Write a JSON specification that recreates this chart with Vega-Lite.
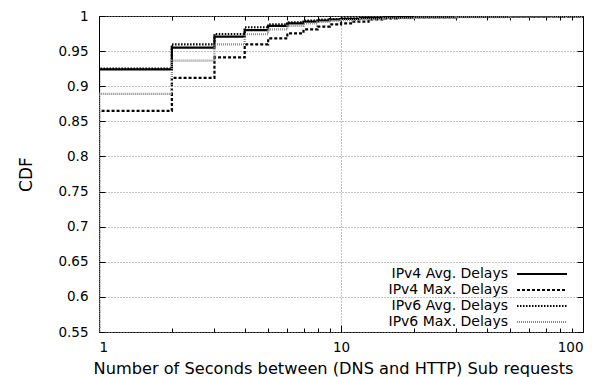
{
  "$schema": "https://vega.github.io/schema/vega-lite/v6.json",
  "width": 484,
  "height": 316,
  "autosize": {"type": "none"},
  "padding": {"left": 99, "top": 16, "right": 20, "bottom": 45},
  "background": "white",
  "config": {
    "view": {"stroke": "#000", "strokeWidth": 1},
    "font": "DejaVu Sans",
    "axis": {
      "labelFont": "DejaVu Sans",
      "titleFont": "DejaVu Sans",
      "labelColor": "#000",
      "titleColor": "#000",
      "tickColor": "#000",
      "labelFontSize": 13.5,
      "titleFontSize": 16.2,
      "titleFontWeight": "normal",
      "domain": false,
      "gridColor": "#888",
      "gridDash": [1, 2],
      "gridWidth": 1
    },
    "legend": {"labelFont": "DejaVu Sans", "labelFontSize": 14, "labelColor": "#000"}
  },
  "data": {
    "values": [
      {"series": "IPv4 Avg. Delays", "x": 1, "y": 0},
      {"series": "IPv4 Avg. Delays", "x": 1, "y": 0.924},
      {"series": "IPv4 Avg. Delays", "x": 2, "y": 0.955},
      {"series": "IPv4 Avg. Delays", "x": 3, "y": 0.9705},
      {"series": "IPv4 Avg. Delays", "x": 4, "y": 0.98},
      {"series": "IPv4 Avg. Delays", "x": 5, "y": 0.986},
      {"series": "IPv4 Avg. Delays", "x": 6, "y": 0.9896},
      {"series": "IPv4 Avg. Delays", "x": 7, "y": 0.992},
      {"series": "IPv4 Avg. Delays", "x": 8, "y": 0.9936},
      {"series": "IPv4 Avg. Delays", "x": 9, "y": 0.995},
      {"series": "IPv4 Avg. Delays", "x": 10, "y": 0.996},
      {"series": "IPv4 Avg. Delays", "x": 12, "y": 0.997},
      {"series": "IPv4 Avg. Delays", "x": 15, "y": 0.998},
      {"series": "IPv4 Avg. Delays", "x": 20, "y": 0.9985},
      {"series": "IPv4 Avg. Delays", "x": 30, "y": 0.999},
      {"series": "IPv4 Avg. Delays", "x": 50, "y": 0.9995},
      {"series": "IPv4 Avg. Delays", "x": 70, "y": 0.9998},
      {"series": "IPv4 Avg. Delays", "x": 100, "y": 1},
      {"series": "IPv4 Max. Delays", "x": 1, "y": 0},
      {"series": "IPv4 Max. Delays", "x": 1, "y": 0.865},
      {"series": "IPv4 Max. Delays", "x": 2, "y": 0.912},
      {"series": "IPv4 Max. Delays", "x": 3, "y": 0.9412},
      {"series": "IPv4 Max. Delays", "x": 4, "y": 0.9595},
      {"series": "IPv4 Max. Delays", "x": 5, "y": 0.968},
      {"series": "IPv4 Max. Delays", "x": 6, "y": 0.9754},
      {"series": "IPv4 Max. Delays", "x": 7, "y": 0.981},
      {"series": "IPv4 Max. Delays", "x": 8, "y": 0.985},
      {"series": "IPv4 Max. Delays", "x": 9, "y": 0.988},
      {"series": "IPv4 Max. Delays", "x": 10, "y": 0.9895},
      {"series": "IPv4 Max. Delays", "x": 11, "y": 0.992},
      {"series": "IPv4 Max. Delays", "x": 13, "y": 0.995},
      {"series": "IPv4 Max. Delays", "x": 15, "y": 0.9965},
      {"series": "IPv4 Max. Delays", "x": 17, "y": 0.998},
      {"series": "IPv4 Max. Delays", "x": 20, "y": 0.9985},
      {"series": "IPv4 Max. Delays", "x": 30, "y": 0.999},
      {"series": "IPv4 Max. Delays", "x": 50, "y": 0.9995},
      {"series": "IPv4 Max. Delays", "x": 100, "y": 1},
      {"series": "IPv6 Avg. Delays", "x": 1, "y": 0},
      {"series": "IPv6 Avg. Delays", "x": 1, "y": 0.925},
      {"series": "IPv6 Avg. Delays", "x": 2, "y": 0.9597},
      {"series": "IPv6 Avg. Delays", "x": 3, "y": 0.9744},
      {"series": "IPv6 Avg. Delays", "x": 4, "y": 0.984},
      {"series": "IPv6 Avg. Delays", "x": 5, "y": 0.988},
      {"series": "IPv6 Avg. Delays", "x": 6, "y": 0.991},
      {"series": "IPv6 Avg. Delays", "x": 7, "y": 0.9933},
      {"series": "IPv6 Avg. Delays", "x": 8, "y": 0.995},
      {"series": "IPv6 Avg. Delays", "x": 9, "y": 0.9957},
      {"series": "IPv6 Avg. Delays", "x": 10, "y": 0.9965},
      {"series": "IPv6 Avg. Delays", "x": 12, "y": 0.9975},
      {"series": "IPv6 Avg. Delays", "x": 15, "y": 0.9985},
      {"series": "IPv6 Avg. Delays", "x": 20, "y": 0.999},
      {"series": "IPv6 Avg. Delays", "x": 30, "y": 0.9993},
      {"series": "IPv6 Avg. Delays", "x": 50, "y": 0.9996},
      {"series": "IPv6 Avg. Delays", "x": 100, "y": 1},
      {"series": "IPv6 Max. Delays", "x": 1, "y": 0},
      {"series": "IPv6 Max. Delays", "x": 1, "y": 0.889},
      {"series": "IPv6 Max. Delays", "x": 2, "y": 0.9364},
      {"series": "IPv6 Max. Delays", "x": 3, "y": 0.9597},
      {"series": "IPv6 Max. Delays", "x": 4, "y": 0.974},
      {"series": "IPv6 Max. Delays", "x": 5, "y": 0.981},
      {"series": "IPv6 Max. Delays", "x": 6, "y": 0.9858},
      {"series": "IPv6 Max. Delays", "x": 7, "y": 0.9896},
      {"series": "IPv6 Max. Delays", "x": 8, "y": 0.9915},
      {"series": "IPv6 Max. Delays", "x": 9, "y": 0.993},
      {"series": "IPv6 Max. Delays", "x": 10, "y": 0.994},
      {"series": "IPv6 Max. Delays", "x": 12, "y": 0.9955},
      {"series": "IPv6 Max. Delays", "x": 15, "y": 0.997},
      {"series": "IPv6 Max. Delays", "x": 20, "y": 0.998},
      {"series": "IPv6 Max. Delays", "x": 30, "y": 0.9985},
      {"series": "IPv6 Max. Delays", "x": 50, "y": 0.999},
      {"series": "IPv6 Max. Delays", "x": 75, "y": 0.9995},
      {"series": "IPv6 Max. Delays", "x": 100, "y": 1}
    ]
  },
  "layer": [
    {
      "mark": {"type": "line", "interpolate": "step-after", "clip": true, "strokeOpacity": 0},
      "encoding": {
        "x": {
          "field": "x", "type": "quantitative",
          "scale": {"type": "log", "domain": [1, 100]},
          "axis": {
            "orient": "top", "labels": false, "title": null, "grid": false,
            "values": [1, 2, 3, 4, 5, 6, 7, 8, 9, 10, 20, 30, 40, 50, 60, 70, 80, 90, 100],
            "tickSize": {"condition": {"test": "datum.value == 1 || datum.value == 10 || datum.value == 100", "value": -7}, "value": -4}
          }
        },
        "y": {
          "field": "y", "type": "quantitative",
          "scale": {"domain": [0.55, 1]},
          "axis": {
            "orient": "right", "labels": false, "title": null, "grid": false,
            "values": [0.55, 0.6, 0.65, 0.7, 0.75, 0.8, 0.85, 0.9, 0.95, 1],
            "tickSize": -6
          }
        },
        "detail": {"field": "series"},
        "order": {"field": "y"}
      }
    },
    {
      "mark": {"type": "line", "interpolate": "step-after", "clip": true},
      "encoding": {
        "x": {
          "field": "x", "type": "quantitative",
          "scale": {"type": "log", "domain": [1, 100]},
          "axis": {
            "orient": "bottom",
            "title": "Number of Seconds between (DNS and HTTP) Sub requests",
            "titlePadding": 7,
            "titleX": 234,
            "values": [1, 2, 3, 4, 5, 6, 7, 8, 9, 10, 20, 30, 40, 50, 60, 70, 80, 90, 100],
            "labelExpr": "datum.value == 1 || datum.value == 10 || datum.value == 100 ? format(datum.value, 'd') : ''",
            "tickSize": {"condition": {"test": "datum.value == 1 || datum.value == 10 || datum.value == 100", "value": -7}, "value": -4},
            "labelPadding": 15,
            "grid": true,
            "gridOpacity": {"condition": {"test": "datum.value == 10", "value": 1}, "value": 0}
          }
        },
        "y": {
          "field": "y", "type": "quantitative",
          "scale": {"domain": [0.55, 1]},
          "axis": {
            "orient": "left",
            "title": "CDF",
            "titleFontSize": 17,
            "titlePadding": 22,
            "values": [0.55, 0.6, 0.65, 0.7, 0.75, 0.8, 0.85, 0.9, 0.95, 1],
            "format": "~g",
            "tickSize": -6,
            "labelPadding": 17,
            "grid": true
          }
        },
        "stroke": {
          "field": "series", "type": "nominal",
          "scale": {
            "domain": ["IPv4 Avg. Delays", "IPv4 Max. Delays", "IPv6 Avg. Delays", "IPv6 Max. Delays"],
            "range": ["#000000", "#000000", "#000000", "#8a8a8a"]
          },
          "legend": {
            "title": null, "orient": "none", "legendX": 416, "legendY": 251,
            "symbolType": "M-5,0H5", "symbolSize": 100, "symbolOffset": 20, "rowPadding": 2,
            "encode": {
              "labels": {"update": {"x": {"value": -7}, "align": {"value": "right"}}}
            }
          }
        },
        "strokeDash": {
          "field": "series", "type": "nominal",
          "scale": {
            "domain": ["IPv4 Avg. Delays", "IPv4 Max. Delays", "IPv6 Avg. Delays", "IPv6 Max. Delays"],
            "range": [[1, 0], [3, 2], [1.5, 1.5], [1, 1]]
          },
          "legend": {
            "title": null, "orient": "none", "legendX": 416, "legendY": 251,
            "symbolType": "M-5,0H5", "symbolSize": 100, "symbolOffset": 20, "rowPadding": 2,
            "encode": {
              "labels": {"update": {"x": {"value": -7}, "align": {"value": "right"}}}
            }
          }
        },
        "strokeWidth": {
          "field": "series", "type": "nominal",
          "scale": {
            "domain": ["IPv4 Avg. Delays", "IPv4 Max. Delays", "IPv6 Avg. Delays", "IPv6 Max. Delays"],
            "range": [2.2, 2.2, 1.6, 1.4]
          },
          "legend": {
            "title": null, "orient": "none", "legendX": 416, "legendY": 251,
            "symbolType": "M-5,0H5", "symbolSize": 100, "symbolOffset": 20, "rowPadding": 2,
            "encode": {
              "labels": {"update": {"x": {"value": -7}, "align": {"value": "right"}}}
            }
          }
        },
        "order": {"field": "y"}
      }
    }
  ],
  "resolve": {"axis": {"x": "independent", "y": "independent"}}
}
